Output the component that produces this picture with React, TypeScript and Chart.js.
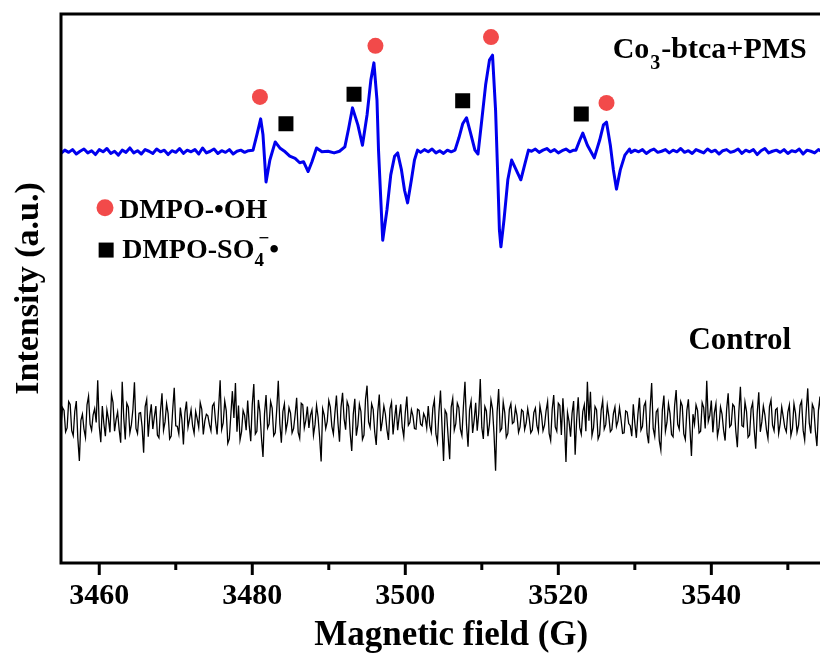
import React, { useEffect, useRef } from 'react';
import { Chart, registerables } from 'chart.js';

Chart.register(...registerables);

// ---------- data ----------
const fieldMin = 3455;
const fieldMax = 3557;
const fieldTicks = [3460, 3480, 3500, 3520, 3540];
const fieldMinorTicks = [3470, 3490, 3510, 3530, 3550];
const intensityMin = 0;
const intensityMax = 100;

// Co3-btca+PMS spectrum: [field (G), intensity (a.u.)]
const blueTrace: [number, number][] = [
  [3455.0, 74.6], [3455.5, 75.2], [3456.0, 74.8], [3456.5, 75.3], [3457.0, 74.5], [3457.5, 75.0], [3458.0, 75.4], [3458.5, 74.7], [3459.0, 75.1], [3459.5, 74.4],
  [3460.0, 75.3], [3460.5, 74.9], [3461.0, 75.5], [3461.5, 74.6], [3462.0, 75.0], [3462.5, 74.3], [3463.0, 75.2], [3463.5, 74.8], [3464.0, 75.6], [3464.5, 74.7],
  [3465.0, 75.1], [3465.5, 74.5], [3466.0, 75.3], [3466.5, 75.0], [3467.0, 74.6], [3467.5, 75.4], [3468.0, 74.9], [3468.5, 75.2], [3469.0, 74.4], [3469.5, 75.1],
  [3470.0, 74.8], [3470.5, 75.5], [3471.0, 74.6], [3471.5, 75.2], [3472.0, 74.9], [3472.5, 75.3], [3473.0, 74.5], [3473.5, 75.6], [3474.0, 74.7], [3474.5, 75.0],
  [3475.0, 75.4], [3475.5, 74.6], [3476.0, 75.1], [3476.5, 74.8], [3477.0, 75.3], [3477.5, 74.5], [3478.0, 75.0], [3478.5, 75.2], [3479.0, 74.8], [3479.5, 75.1],
  [3480.1, 75.2], [3480.6, 78.0], [3481.1, 80.9], [3481.4, 78.0], [3481.8, 69.4], [3482.3, 73.4], [3483.0, 76.7], [3483.6, 75.6], [3484.3, 74.9], [3484.9, 74.1],
  [3485.6, 73.7], [3486.2, 72.9], [3486.7, 73.1], [3487.3, 71.3], [3487.8, 73.1], [3488.4, 75.6], [3489.1, 74.9], [3489.9, 75.0], [3490.7, 74.7], [3491.4, 75.0],
  [3492.1, 75.8], [3492.6, 79.2], [3493.1, 82.9], [3493.8, 79.8], [3494.4, 76.1], [3495.0, 81.6], [3495.5, 88.0], [3495.9, 91.1], [3496.3, 84.3], [3496.5, 75.2],
  [3496.8, 66.1], [3497.05, 58.8], [3497.6, 64.3], [3498.1, 70.7], [3498.6, 74.1], [3499.0, 74.7], [3499.5, 71.6], [3499.9, 67.9], [3500.3, 65.6], [3500.8, 69.8],
  [3501.2, 73.4], [3501.6, 75.2],
  [3502.0, 74.8], [3502.5, 75.3], [3503.0, 74.9], [3503.5, 75.4], [3504.0, 74.7], [3504.5, 75.1], [3505.0, 74.6], [3505.5, 75.2], [3506.0, 74.9],
  [3506.5, 75.2], [3507.0, 77.4], [3507.5, 80.0], [3508.0, 81.1], [3508.5, 78.5], [3509.1, 75.2], [3509.5, 74.5], [3510.0, 80.7], [3510.5, 87.1], [3511.0, 91.6],
  [3511.4, 92.5], [3511.8, 82.5], [3512.1, 69.8], [3512.3, 60.7], [3512.5, 57.6], [3512.9, 62.5], [3513.4, 69.8], [3513.9, 73.4], [3514.4, 71.9], [3515.1, 69.8],
  [3515.6, 72.5], [3516.1, 75.2],
  [3516.5, 75.0], [3517.0, 75.4], [3517.5, 74.8], [3518.0, 75.2], [3518.5, 75.5], [3519.0, 74.9], [3519.5, 75.3], [3520.0, 74.7], [3520.5, 75.1], [3521.0, 75.4],
  [3521.5, 74.9], [3522.0, 75.2],
  [3522.3, 75.2], [3522.8, 77.0], [3523.2, 78.3], [3523.8, 76.1], [3524.7, 73.8], [3525.4, 77.0], [3525.9, 79.8], [3526.3, 80.3], [3526.8, 76.1], [3527.2, 71.6],
  [3527.6, 68.1], [3528.1, 71.6], [3528.7, 74.3], [3529.3, 75.4],
  [3529.5, 74.8], [3530.0, 75.2], [3530.5, 74.9], [3531.0, 75.3], [3531.5, 74.6], [3532.0, 75.1], [3532.5, 75.4], [3533.0, 74.8], [3533.5, 75.0], [3534.0, 75.3],
  [3534.5, 74.7], [3535.0, 75.2], [3535.5, 74.9], [3536.0, 75.5], [3536.5, 74.8], [3537.0, 75.1], [3537.5, 74.6], [3538.0, 75.3], [3538.5, 75.0], [3539.0, 74.7],
  [3539.5, 75.4], [3540.0, 74.9], [3540.5, 75.2], [3541.0, 74.5], [3541.5, 75.1], [3542.0, 75.3], [3542.5, 74.8], [3543.0, 75.0], [3543.5, 75.4], [3544.0, 74.6],
  [3544.5, 75.2], [3545.0, 74.9], [3545.5, 75.3], [3546.0, 74.4], [3546.5, 75.1], [3547.0, 75.5], [3547.5, 74.7], [3548.0, 75.0], [3548.5, 75.2], [3549.0, 74.8],
  [3549.5, 75.3], [3550.0, 74.6], [3550.5, 75.1], [3551.0, 74.9], [3551.5, 75.4], [3552.0, 74.5], [3552.5, 75.2], [3553.0, 75.0], [3553.5, 74.7], [3554.0, 75.3],
  [3554.5, 74.9], [3555.0, 75.1], [3555.5, 74.6], [3556.0, 75.4], [3556.5, 74.8], [3557.0, 75.2]
];

// Control spectrum, sampled every controlStep G from controlStart
const controlStart = 3455;
const controlStep = 0.2;
const controlSignal = [
  25.1, 28.3, 27.8, 23.9, 24.6, 29.4, 28.9, 24.1, 23.2, 27.6, 29.5, 22.7, 18.6, 26.0, 27.1, 24.4, 22.9, 28.8, 30.4, 25.3,
  24.2, 27.0, 28.1, 25.6, 33.3, 24.9, 22.0, 28.6, 25.4, 23.1, 27.9, 26.2, 23.8, 30.7, 29.2, 24.0, 26.1, 27.5, 24.3, 21.9,
  33.0, 26.5, 22.5, 29.1, 28.4, 23.7, 25.2, 28.0, 32.9, 24.5, 23.6, 27.3, 27.4, 24.8, 20.1, 28.5, 29.8, 23.0, 26.7, 28.9,
  24.4, 26.6, 28.6, 23.3, 22.8, 27.7, 30.9, 24.2, 25.7, 29.0, 27.2, 22.6, 23.1, 27.9, 31.9, 25.0, 24.9, 23.5, 28.3, 26.1,
  21.6, 27.4, 29.4, 24.7, 26.2, 27.9, 25.0, 23.6, 27.6, 26.3, 24.7, 29.2, 28.0, 23.4, 25.9, 27.1, 26.8, 25.2, 24.1, 28.6,
  29.1, 25.8, 23.4, 28.2, 33.3, 24.3, 25.5, 29.5, 27.7, 21.8, 22.6, 27.0, 31.3, 26.4, 32.8, 23.9, 28.7, 22.4, 23.9, 27.8,
  26.9, 24.2, 29.6, 25.1, 22.2, 28.9, 32.6, 23.5, 24.0, 29.7, 27.5, 22.8, 19.3, 27.2, 30.6, 24.6, 25.3, 29.4, 28.2, 23.2,
  23.7, 28.0, 33.2, 25.4, 21.9, 27.6, 29.0, 24.1, 25.6, 28.3, 27.3, 23.7, 24.5, 27.0, 30.1, 23.8, 22.7, 29.1, 28.8, 24.6,
  26.0, 28.5, 24.6, 26.9, 27.9, 23.3, 25.2, 28.7, 26.6, 22.9, 18.5, 28.1, 27.0, 24.5, 25.8, 29.6, 28.4, 24.9, 23.5, 27.3,
  30.5, 25.5, 22.1, 28.4, 31.0, 26.3, 24.3, 29.4, 28.5, 23.6, 20.4, 27.1, 29.9, 23.2, 25.1, 28.9, 27.6, 22.5, 23.3, 29.8,
  32.3, 25.7, 24.7, 29.0, 28.0, 23.9, 21.5, 27.5, 30.7, 24.0, 25.9, 28.6, 27.1, 24.3, 22.4, 28.1, 29.3, 23.4, 26.3, 28.8,
  24.2, 26.7, 28.9, 24.8, 23.0, 27.4, 30.3, 25.1, 25.6, 27.9, 26.8, 24.5, 24.4, 28.0, 27.8, 25.3, 25.0, 27.2, 26.5, 24.6,
  28.6, 25.0, 23.8, 28.2, 29.7, 23.5, 22.0, 27.6, 31.4, 24.9, 18.6, 27.8, 27.2, 23.0, 18.9, 28.4, 30.0, 24.2, 25.4, 29.1,
  28.3, 24.4, 23.2, 28.6, 33.0, 25.2, 21.2, 27.9, 29.5, 23.7, 26.0, 29.2, 24.1, 27.3, 33.5, 24.7, 22.6, 28.5, 27.7, 23.1,
  25.3, 29.7, 28.1, 23.4, 16.8, 27.5, 31.7, 24.0, 24.5, 29.3, 27.4, 22.9, 23.6, 28.0, 29.0, 25.4, 25.7, 28.3, 26.9, 23.8,
  24.8, 27.9, 27.6, 24.3, 25.5, 28.1, 26.3, 23.7, 24.2, 27.4, 28.2, 25.0, 23.9, 28.6, 27.0, 24.1, 25.1, 27.7, 29.4, 23.6,
  22.3, 28.0, 30.6, 24.8, 24.0, 29.1, 28.7, 23.3, 30.0, 25.6, 18.4, 27.4, 25.8, 23.0, 27.3, 29.5, 19.7, 26.2, 30.2, 24.7,
  23.5, 27.6, 28.8, 24.0, 33.0, 25.9, 31.2, 23.2, 24.6, 28.5, 27.9, 22.6, 23.4, 27.8, 29.6, 24.4, 25.2, 28.7, 26.7, 23.9,
  24.3, 27.2, 28.4, 24.9, 25.9, 28.3, 26.1, 23.6, 23.7, 27.7, 27.5, 25.4, 25.0, 23.1, 28.9, 25.5, 22.8, 27.0, 30.1, 24.2,
  24.9, 28.6, 29.3, 23.6, 21.8, 28.2, 32.8, 24.5, 23.1, 27.5, 28.0, 22.3, 20.6, 27.9, 30.5, 24.0, 25.6, 29.0, 27.2, 23.4,
  23.0, 28.7, 31.5, 25.3, 24.4, 29.4, 28.6, 23.5, 22.5, 27.8, 29.8, 24.6, 19.5, 27.1, 25.3, 28.8, 27.8, 23.7, 24.0, 29.2,
  28.3, 24.5, 33.2, 25.8, 26.9, 29.6, 23.8, 27.4, 29.0, 23.1, 24.7, 28.4, 27.1, 24.2, 22.3, 28.0, 30.9, 24.8, 25.2, 28.9,
  28.5, 24.0, 21.1, 27.7, 32.1, 25.0, 24.8, 29.3, 27.6, 22.9, 23.3, 28.1, 29.2, 24.4, 20.8, 27.4, 31.1, 23.9, 25.7, 28.6,
  27.0, 24.3, 22.7, 28.5, 29.7, 25.1, 24.1, 27.9, 28.2, 23.6, 25.4, 28.4, 26.6, 24.7, 23.9, 27.5, 28.8, 23.2, 24.5, 29.0,
  27.3, 23.8, 25.1, 28.7, 29.5, 24.2, 22.4, 27.6, 31.8, 25.5, 23.6, 28.9, 28.1, 24.0, 21.3, 27.8, 30.3, 24.6, 25.9, 28.2,
  27.5, 24.1, 23.2, 28.8, 29.9, 25.3, 24.6, 29.1, 28.4, 23.5, 22.1, 27.7, 31.2, 24.9, 25.0, 28.5, 27.7, 23.4, 23.7, 28.3,
  29.1, 25.6, 24.9, 28.0, 26.8
];

// peak assignment markers: [field (G), intensity]
const ohMarkers: [number, number][] = [[3481.0, 84.9], [3496.1, 94.2], [3511.2, 95.8], [3526.3, 83.8]];
const so4Markers: [number, number][] = [[3484.4, 80.0], [3493.3, 85.4], [3507.5, 84.2], [3523.0, 81.8]];

const SERIF = '"Liberation Serif", "Times New Roman", Times, serif';
const OH_COLOR = '#F24A4A';
const BLUE = '#0000EE';

const decorPlugin = {
  id: 'decor',
  afterDatasetsDraw(chart: any) {
    const { ctx, chartArea: a, scales } = chart;
    const x = scales.x;
    const y = scales.y;
    ctx.save();
    // frame
    ctx.strokeStyle = '#000';
    ctx.lineWidth = 3;
    ctx.strokeRect(a.left, a.top, a.right - a.left, a.bottom - a.top);
    // ticks
    ctx.lineCap = 'butt';
    fieldTicks.forEach((v) => {
      const px = x.getPixelForValue(v);
      ctx.beginPath();
      ctx.moveTo(px, a.bottom);
      ctx.lineTo(px, a.bottom + 12);
      ctx.stroke();
    });
    fieldMinorTicks.forEach((v) => {
      const px = x.getPixelForValue(v);
      ctx.beginPath();
      ctx.moveTo(px, a.bottom);
      ctx.lineTo(px, a.bottom + 7);
      ctx.stroke();
    });

    ctx.fillStyle = '#000';
    ctx.textAlign = 'left';
    ctx.textBaseline = 'alphabetic';

    // sample label
    let px = x.getPixelForValue(3527.1);
    let py = y.getPixelForValue(92.0);
    ctx.font = `bold 30px ${SERIF}`;
    ctx.fillText('Co', px, py);
    px += ctx.measureText('Co').width + 1;
    ctx.font = `bold 20px ${SERIF}`;
    ctx.fillText('3', px, py + 11);
    px += ctx.measureText('3').width + 1;
    ctx.font = `bold 30px ${SERIF}`;
    ctx.fillText('-btca+PMS', px, py);

    // control label
    ctx.font = `bold 31px ${SERIF}`;
    ctx.fillText('Control', x.getPixelForValue(3537.0), y.getPixelForValue(39.0));

    // legend: circle
    const cx = x.getPixelForValue(3460.75);
    const cy = y.getPixelForValue(64.7);
    ctx.fillStyle = OH_COLOR;
    ctx.beginPath();
    ctx.arc(cx, cy, 8.5, 0, Math.PI * 2);
    ctx.fill();
    ctx.fillStyle = '#000';
    ctx.font = `bold 28px ${SERIF}`;
    ctx.fillText('DMPO-\u2022OH', x.getPixelForValue(3462.6), y.getPixelForValue(62.8));

    // legend: square
    const sx = x.getPixelForValue(3460.9);
    const sy = y.getPixelForValue(57.0);
    ctx.fillRect(sx - 7.5, sy - 7.5, 15, 15);
    px = x.getPixelForValue(3463.0);
    py = y.getPixelForValue(55.6);
    ctx.font = `bold 28px ${SERIF}`;
    ctx.fillText('DMPO-SO', px, py);
    px += ctx.measureText('DMPO-SO').width;
    ctx.font = `bold 19px ${SERIF}`;
    ctx.fillText('4', px, py + 8);
    ctx.fillText('\u2212', px + 4, py - 14);
    px += ctx.measureText('\u2212').width + 4;
    ctx.font = `bold 28px ${SERIF}`;
    ctx.fillText('\u2022', px, py);
    ctx.restore();
  },
};

export default function App() {
  const ref = useRef<HTMLCanvasElement>(null);
  useEffect(() => {
    if (!ref.current) return;
    const chart = new Chart(ref.current, {
      type: 'line',
      data: {
        datasets: [
          {
            label: 'DMPO-\u2022OH',
            data: ohMarkers.map(([fx, fy]) => ({ x: fx, y: fy })),
            showLine: false,
            pointStyle: 'circle',
            pointRadius: 8,
            pointBackgroundColor: OH_COLOR,
            pointBorderColor: OH_COLOR,
            pointBorderWidth: 0,
            borderColor: OH_COLOR,
            backgroundColor: OH_COLOR,
          },
          {
            label: 'DMPO-SO4\u2212\u2022',
            data: so4Markers.map(([fx, fy]) => ({ x: fx, y: fy })),
            showLine: false,
            pointStyle: 'rect',
            pointRadius: 10.6,
            pointBackgroundColor: '#000',
            pointBorderColor: '#000',
            pointBorderWidth: 0,
            borderColor: '#000',
            backgroundColor: '#000',
          },
          {
            label: 'Co3-btca+PMS',
            data: blueTrace.map(([fx, fy]) => ({ x: fx, y: fy })),
            borderColor: BLUE,
            backgroundColor: BLUE,
            borderWidth: 3,
            pointRadius: 0,
            tension: 0,
            borderJoinStyle: 'round',
          },
          {
            label: 'Control',
            data: controlSignal.map((v, i) => ({ x: controlStart + i * controlStep, y: v })),
            borderColor: '#000',
            backgroundColor: '#000',
            borderWidth: 1.3,
            pointRadius: 0,
            tension: 0,
          },
        ],
      },
      options: {
        responsive: false,
        animation: false,
        events: [],
        layout: { padding: { top: 14, right: 10, left: 0, bottom: 0 } },
        plugins: {
          legend: { display: false },
          tooltip: { enabled: false },
        },
        scales: {
          x: {
            type: 'linear',
            min: fieldMin,
            max: fieldMax,
            afterBuildTicks: (s: any) => {
              s.ticks = fieldTicks.map((v) => ({ value: v }));
            },
            afterFit: (s: any) => {
              s.height = 90;
            },
            ticks: {
              autoSkip: false,
              maxRotation: 0,
              padding: 15,
              color: '#000',
              font: { family: SERIF, size: 30, weight: 'bold', lineHeight: 1.2 },
              callback: (v: any) => String(v),
            },
            grid: { display: false, drawTicks: false },
            border: { display: false },
            title: {
              display: true,
              text: 'Magnetic field (G)',
              color: '#000',
              padding: 0,
              font: { family: SERIF, size: 35, weight: 'bold', lineHeight: 1 },
            },
          },
          y: {
            type: 'linear',
            min: intensityMin,
            max: intensityMax,
            afterFit: (s: any) => {
              s.width = 61;
            },
            ticks: { display: false },
            grid: { display: false, drawTicks: false },
            border: { display: false },
            title: {
              display: true,
              text: 'Intensity (a.u.)',
              color: '#000',
              padding: { top: 12, bottom: 0 },
              font: { family: SERIF, size: 34, weight: 'bold', lineHeight: 1 },
            },
          },
        },
      } as any,
      plugins: [decorPlugin],
    });
    return () => chart.destroy();
  }, []);

  return (
    <div
      style={{
        position: 'fixed',
        left: 0,
        top: 0,
        width: 820,
        height: 653,
        overflow: 'hidden',
        background: '#fff',
      }}
    >
      <canvas ref={ref} width={852} height={653} style={{ display: 'block' }} />
    </div>
  );
}
